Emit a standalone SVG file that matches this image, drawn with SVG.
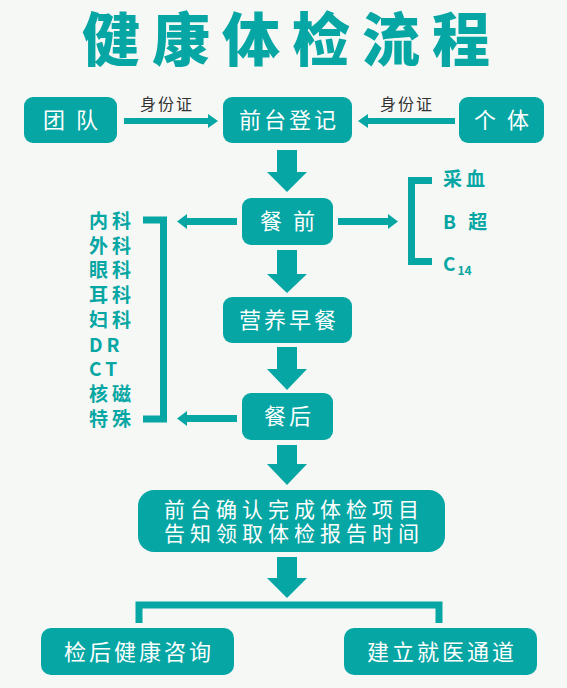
<svg xmlns="http://www.w3.org/2000/svg" width="567" height="688" viewBox="0 0 567 688">
<style>
.bx{fill:#05a6a3}
.bt{fill:#fff;font-family:"Noto Sans CJK SC","Noto Sans",sans-serif;font-size:22px;text-anchor:middle;letter-spacing:3px}
.bt2{fill:#fff;font-family:"Noto Sans CJK SC","Noto Sans",sans-serif;font-size:21px;text-anchor:middle;letter-spacing:5px}
.lbl{fill:#333;font-family:"Noto Sans CJK SC",sans-serif;font-size:16px;text-anchor:middle;letter-spacing:2px}
.lst{fill:#05a6a3;font-family:"Noto Sans CJK SC","Noto Sans",sans-serif;font-size:19px;font-weight:700;letter-spacing:4px}
.ln{stroke:#05a6a3;stroke-width:7;fill:none}
.ar{fill:#05a6a3}
</style>
<rect width="567" height="688" fill="#f6f8f6"/>
<text x="292" y="61" fill="#05a6a3" font-family="'Noto Sans CJK SC',sans-serif" font-size="58" font-weight="900" text-anchor="middle" letter-spacing="12">健康体检流程</text>

<g id="n-tuandui"><rect class="bx" x="24" y="97" width="93" height="46" rx="9"/><text class="bt" x="72" y="128">团 队</text></g>
<g id="n-qiantai"><rect class="bx" x="223" y="97" width="129" height="46" rx="9"/><text class="bt" x="289" y="128">前台登记</text></g>
<g id="n-geti"><rect class="bx" x="459" y="97" width="85" height="46" rx="9"/><text class="bt" x="503" y="128">个 体</text></g>
<g id="n-canqian"><rect class="bx" x="242" y="198" width="91" height="47" rx="9"/><text class="bt" x="289" y="229">餐 前</text></g>
<g id="n-yingyang"><rect class="bx" x="223" y="297" width="129" height="46" rx="9"/><text class="bt" x="289" y="328">营养早餐</text></g>
<g id="n-canhou"><rect class="bx" x="242" y="393" width="91" height="47" rx="9"/><text class="bt" x="289" y="424">餐后</text></g>
<g id="n-queren"><rect class="bx" x="138" y="490" width="307" height="62" rx="16"/><text class="bt2" x="294" y="517">前台确认完成体检项目</text><text class="bt2" x="294" y="541">告知领取体检报告时间</text></g>
<g id="n-zixun"><rect class="bx" x="41" y="628" width="193" height="47" rx="10"/><text class="bt" x="139" y="660">检后健康咨询</text></g>
<g id="n-jiuyi"><rect class="bx" x="344" y="628" width="193" height="47" rx="10"/><text class="bt" x="442" y="660">建立就医通道</text></g>

<g id="n-left-list">
<text class="lst" x="89" y="228">内科</text>
<text class="lst" x="89" y="253">外科</text>
<text class="lst" x="89" y="277">眼科</text>
<text class="lst" x="89" y="302">耳科</text>
<text class="lst" x="89" y="327">妇科</text>
<text class="lst" x="89" y="352">DR</text>
<text class="lst" x="89" y="376">CT</text>
<text class="lst" x="89" y="401">核磁</text>
<text class="lst" x="89" y="426">特殊</text>
</g>
<g id="n-right-list">
<text class="lst" x="443" y="186">采血</text>
<text class="lst" x="443" y="229">B 超</text>
<text class="lst" x="443" y="271">C<tspan font-size="12" dy="4" dx="-2" letter-spacing="0">14</tspan></text>
</g>

<g id="connectors">
<rect class="ar" x="124" y="118" width="86" height="6"/><polygon class="ar" points="208,114 218,121 208,128"/>
<text class="lbl" x="167" y="110">身份证</text>
<rect class="ar" x="366" y="118" width="89" height="6"/><polygon class="ar" points="368,114 358,121 368,128"/>
<text class="lbl" x="407" y="110">身份证</text>

<polygon class="ar" points="277,150 297,150 297,172 307,172 287,192 267,172 277,172"/>
<polygon class="ar" points="277,250 297,250 297,274 307,274 287,293 267,274 277,274"/>
<polygon class="ar" points="277,347 297,347 297,369 307,369 287,390 267,369 277,369"/>
<polygon class="ar" points="277,445 297,445 297,464 307,464 287,485 267,464 277,464"/>
<polygon class="ar" points="277,557 297,557 297,578 307,578 287,598 267,578 277,578"/>

<rect class="ar" x="185" y="218" width="52" height="7"/><polygon class="ar" points="187,214 177,221.5 187,229"/>
<rect class="ar" x="338" y="218" width="52" height="7"/><polygon class="ar" points="388,214 398,221.5 388,229"/>
<rect class="ar" x="185" y="415" width="52" height="7"/><polygon class="ar" points="187,411 177,418.5 187,426"/>

<path class="ln" d="M143 220 H163.5 V419 H143"/>
<path class="ln" d="M432 180.5 H411.5 V261.5 H432"/>
<path class="ln" d="M139 623 V605 H439 V623"/>
</g>
</svg>
